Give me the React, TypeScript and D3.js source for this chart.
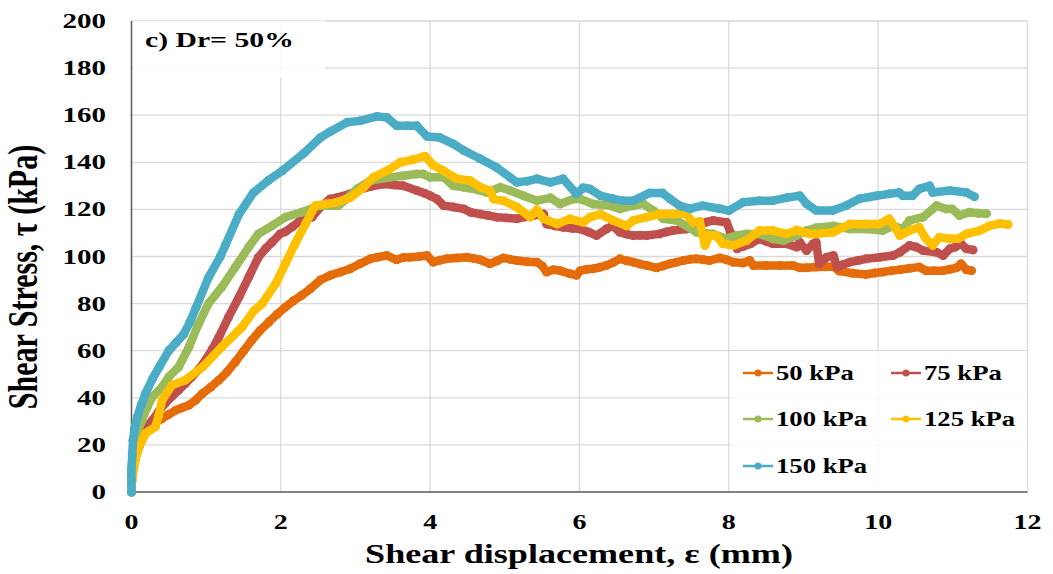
import React from "react";
import * as d3 from "d3";

const W = 1053;
const H = 574;
const FONT = "'Liberation Serif', 'Times New Roman', serif";

// axis ticks
const xTicks = [0, 2, 4, 6, 8, 10, 12];
const yTicks = [0, 20, 40, 60, 80, 100, 120, 140, 160, 180, 200];

// series: [displacement mm, shear stress kPa]
const s50: [number, number][] = [
  [0, 0], [0, 4], [0.01, 8], [0.05, 14], [0.1, 19], [0.16, 24], [0.23, 27.7], [0.32, 29.5], [0.41, 31.2],
  [0.5, 33], [0.59, 34.7], [0.68, 35.8], [0.77, 36.9], [0.86, 39], [0.95, 41.8], [1.06, 44.5], [1.17, 47.5],
  [1.28, 51], [1.39, 55.2], [1.5, 59.8], [1.61, 64.4], [1.72, 68.5], [1.84, 72.2], [1.95, 75.5], [2.06, 78.5],
  [2.17, 81.2], [2.28, 83.5], [2.4, 86.4], [2.53, 90], [2.66, 92], [2.8, 93.4], [2.93, 94.8], [3.06, 96.9],
  [3.2, 99], [3.29, 99.7], [3.42, 100.4], [3.55, 98.6], [3.64, 99.6], [3.73, 99.7], [3.85, 100], [3.96, 100.4],
  [4.04, 97.6], [4.13, 98.4], [4.22, 99], [4.35, 99.4], [4.49, 99.7], [4.58, 99.2], [4.67, 98.6], [4.8, 96.9],
  [4.9, 98.2], [4.98, 99.4], [5.07, 98.8], [5.16, 98.3], [5.3, 97.8], [5.43, 97.6], [5.5, 96], [5.56, 93.4],
  [5.65, 94.4], [5.74, 94], [5.87, 92.7], [5.96, 92], [6.01, 94], [6.1, 94.6], [6.18, 94.8], [6.27, 95.4],
  [6.36, 96.2], [6.45, 97.4], [6.54, 99], [6.63, 98.2], [6.72, 97.6], [6.81, 96.8], [6.9, 96.2], [7.03, 95.2],
  [7.12, 96], [7.21, 96.9], [7.3, 97.6], [7.39, 98.3], [7.48, 98.8], [7.57, 99], [7.66, 98.6], [7.74, 98.3],
  [7.88, 99.4], [7.97, 98.6], [8.06, 97.6], [8.19, 97.2], [8.28, 98.3], [8.33, 96.2], [8.5, 96.2], [8.68, 96.2],
  [8.86, 96.2], [8.95, 95.2], [9.04, 95.2], [9.17, 95.5], [9.3, 95.6], [9.4, 95.8], [9.48, 93.8], [9.66, 92.9],
  [9.84, 92.4], [9.95, 93], [10.06, 93.4], [10.18, 94], [10.29, 94.4], [10.42, 95], [10.55, 95.5], [10.64, 94],
  [10.75, 94], [10.87, 94], [10.96, 94.6], [11.05, 95.2], [11.11, 96.9], [11.18, 94.4], [11.25, 94],
];

const s75: [number, number][] = [
  [0, 0], [0, 5], [0.01, 12], [0.05, 17], [0.1, 22], [0.19, 27], [0.28, 30.5], [0.36, 34], [0.45, 37.6],
  [0.54, 40.5], [0.63, 43.2], [0.72, 46], [0.81, 48.9], [0.9, 52], [0.99, 56], [1.08, 60.5], [1.17, 65.8],
  [1.3, 74.3], [1.44, 82.8], [1.57, 91.2], [1.7, 99.7], [1.8, 103.5], [1.88, 106], [1.99, 109.6], [2.06, 110.5],
  [2.15, 112.5], [2.26, 115.3], [2.42, 116.7], [2.53, 121], [2.66, 124.4], [2.75, 125], [2.93, 126.6],
  [3.06, 128.5], [3.2, 129.7], [3.38, 130.8], [3.52, 130.4], [3.64, 130], [3.82, 128], [3.93, 126.8], [4.0, 125.8],
  [4.09, 124.4], [4.18, 121.6], [4.31, 121], [4.45, 120.2], [4.54, 118.8], [4.67, 118], [4.78, 117.4],
  [4.89, 116.7], [5.02, 116.4], [5.16, 116], [5.27, 116.8], [5.38, 117.4], [5.52, 118], [5.56, 113.8], [5.67, 113],
  [5.78, 112.4], [5.9, 112], [6.01, 111.7], [6.12, 110.4], [6.23, 108.9], [6.36, 111.7], [6.45, 113], [6.54, 110.3],
  [6.63, 109.5], [6.72, 108.9], [6.81, 109], [6.9, 108.9], [7.07, 109.6], [7.16, 110.4], [7.25, 111], [7.43, 111.7],
  [7.52, 112.8], [7.61, 113.8], [7.7, 114.6], [7.79, 115.3], [7.97, 114.5], [8.02, 110.3], [8.07, 106], [8.11, 103.3],
  [8.2, 104.4], [8.29, 105.4], [8.41, 107.5], [8.5, 106.4], [8.59, 105.4], [8.77, 105.4], [8.91, 104], [8.95, 106],
  [9.04, 102.5], [9.13, 105.4], [9.17, 106], [9.21, 96.9], [9.31, 99.7], [9.4, 100.4], [9.45, 95.5], [9.53, 96.6],
  [9.62, 97.6], [9.73, 98.3], [9.84, 99], [10.02, 99.7], [10.2, 100.4], [10.29, 101.8], [10.42, 104.7], [10.51, 104],
  [10.6, 102.5], [10.78, 101.8], [10.87, 100.4], [10.96, 103.3], [11.03, 104], [11.11, 105.4], [11.18, 103.3],
  [11.27, 102.8],
];

const s100: [number, number][] = [
  [0, 0], [0, 6], [0.01, 12], [0.03, 18], [0.05, 22], [0.09, 26.5], [0.14, 30.5], [0.21, 36], [0.28, 40.4],
  [0.41, 44.6], [0.5, 48.9], [0.63, 53], [0.77, 61.6], [0.9, 71.5], [1.03, 80], [1.21, 87], [1.39, 95.5],
  [1.57, 104], [1.7, 109.6], [1.88, 113], [2.06, 116.7], [2.28, 118.8], [2.51, 121.6], [2.66, 121.6],
  [2.77, 121.6], [2.9, 125], [3.02, 128.7], [3.2, 132.2], [3.46, 133.6], [3.64, 134.3], [3.82, 135], [3.91, 135],
  [4.0, 133.6], [4.18, 133.6], [4.31, 130], [4.45, 129.4], [4.54, 129], [4.65, 128.2], [4.76, 127.2], [4.94, 129.4],
  [5.07, 128], [5.25, 125.8], [5.43, 123.7], [5.61, 124.9], [5.74, 122.3], [5.92, 124.4], [6.01, 124.4],
  [6.18, 122.3], [6.41, 121.6], [6.54, 120.2], [6.72, 121.6], [6.85, 122.4], [6.99, 119.5], [7.12, 116],
  [7.3, 115.3], [7.43, 113], [7.57, 110.3], [7.79, 109.6], [7.97, 107.5], [8.1, 108.9], [8.24, 109.6], [8.41, 109.6],
  [8.59, 107.5], [8.73, 106.8], [8.91, 108.9], [9.04, 111], [9.17, 112.2], [9.4, 113], [9.62, 111.7], [9.84, 111.7],
  [10.06, 111], [10.2, 113], [10.33, 111.7], [10.42, 115.3], [10.6, 116.7], [10.73, 120.2], [10.78, 121.6],
  [10.91, 120.2], [10.99, 120.2], [11.09, 117.4], [11.22, 118.8], [11.34, 118.4], [11.45, 118.2],
];

const s125: [number, number][] = [
  [0, 0], [0, 3], [0.01, 5], [0.03, 10], [0.06, 15], [0.1, 19], [0.19, 24.9], [0.32, 27.7], [0.36, 32],
  [0.41, 39], [0.54, 45.3], [0.72, 47.5], [0.95, 53], [1.21, 61.6], [1.48, 70], [1.64, 77], [1.75, 80],
  [1.93, 88.4], [2.06, 96.9], [2.19, 105.4], [2.33, 113.8], [2.46, 121.6], [2.6, 122.3], [2.75, 123], [2.93, 125],
  [3.11, 129.4], [3.24, 133.6], [3.42, 136.4], [3.6, 140], [3.78, 141.2], [3.93, 142.6], [4.04, 138.8],
  [4.18, 136.4], [4.36, 133], [4.54, 132.2], [4.67, 129.4], [4.8, 128], [4.85, 124.4], [4.98, 123.7], [5.16, 121],
  [5.34, 116.7], [5.43, 119.8], [5.52, 116], [5.7, 113.8], [5.87, 116], [6.05, 114.5], [6.14, 116.7], [6.28, 118],
  [6.45, 115.3], [6.63, 113], [6.72, 115.3], [6.9, 116.7], [7.07, 118], [7.25, 118], [7.43, 118], [7.52, 114.5],
  [7.61, 114.9], [7.68, 104.7], [7.74, 108.9], [7.83, 108.9], [7.92, 105.4], [8.06, 104.7], [8.24, 106.8],
  [8.41, 111], [8.59, 111], [8.77, 109.6], [8.91, 111.2], [9.08, 109.6], [9.17, 109.6], [9.4, 110.3], [9.62, 113.8],
  [9.84, 113.8], [10.02, 113.8], [10.15, 116], [10.24, 111.7], [10.29, 108.9], [10.42, 111], [10.55, 112.4],
  [10.64, 107.5], [10.73, 104.7], [10.82, 108.2], [10.96, 107.5], [11.07, 107.5], [11.18, 109.6], [11.36, 111],
  [11.49, 113], [11.63, 114], [11.74, 113.6],
];

const s150: [number, number][] = [
  [0, 0], [0, 5], [0, 10], [0.01, 16], [0.02, 22], [0.04, 27], [0.08, 32], [0.13, 37], [0.19, 42], [0.28, 48],
  [0.37, 53], [0.5, 60], [0.6, 63.5], [0.7, 67], [0.78, 72], [0.86, 78], [1.03, 91], [1.19, 100], [1.26, 105],
  [1.44, 118], [1.63, 127], [1.84, 132.5], [2.02, 136.4], [2.3, 143.6], [2.53, 150.5], [2.66, 153], [2.89, 157],
  [3.06, 157.6], [3.29, 159.5], [3.42, 159], [3.55, 155.5], [3.69, 155.5], [3.82, 155.5], [3.96, 151],
  [4.13, 150.5], [4.31, 147.8], [4.45, 145], [4.67, 141.5], [4.89, 137.8], [5.07, 133.6], [5.16, 131.5],
  [5.3, 132], [5.43, 133], [5.61, 131.5], [5.78, 133], [5.96, 126.6], [6.05, 129.2], [6.14, 128.7], [6.28, 125.8],
  [6.45, 124.5], [6.58, 123.7], [6.72, 123.7], [6.81, 125], [6.94, 127], [7.11, 127], [7.21, 124.5], [7.34, 121.6],
  [7.48, 120.3], [7.65, 121.6], [7.88, 120.3], [8.0, 119.5], [8.19, 123], [8.41, 123.7], [8.59, 123.7], [8.78, 125],
  [8.95, 125.8], [9.04, 122.4], [9.17, 119.5], [9.39, 119.5], [9.57, 121.6], [9.75, 124.5], [9.98, 125.8],
  [10.15, 126.6], [10.28, 127.2], [10.33, 125.8], [10.46, 125.8], [10.55, 128.7], [10.69, 130], [10.73, 127.2],
  [10.96, 128], [11.18, 127.2], [11.29, 125.4],
];

const seriesNames = ["50 kPa", "75 kPa", "100 kPa", "125 kPa", "150 kPa"];
const seriesColors = ["#E46C0A", "#C0504D", "#9BBB59", "#FFC000", "#4BACC6"];
const seriesData = [s50, s75, s100, s125, s150];

const x = d3.scaleLinear().domain([0, 12]).range([131.5, 1027.5]);
const y = d3.scaleLinear().domain([0, 200]).range([492, 21]);
const line = d3
  .line<[number, number]>()
  .x((d) => x(d[0]))
  .y((d) => y(d[1]));

// text in the picture is stretched sideways, so scale it after placing
const Wide = ({ tx, ty, sx = 1.4, size = 20, anchor = "start", children }: any) => (
  <text
    transform={`translate(${tx},${ty}) scale(${sx},1)`}
    fontFamily={FONT}
    fontWeight="bold"
    fontSize={size}
    textAnchor={anchor}
    fill="#000"
  >
    {children}
  </text>
);

const App = () => {
  const legendPos = [
    [743, 373],
    [891, 373],
    [743, 419],
    [891, 419],
    [743, 466],
  ];
  return (
    <svg width={W} height={H} style={{ position: "absolute", left: 0, top: 0, background: "#fff" }}>
      {/* grid */}
      {yTicks.slice(1).map((t) => (
        <line key={"gy" + t} x1={x(0)} x2={x(12)} y1={y(t)} y2={y(t)} stroke="#d9d9d9" strokeWidth={1.3} />
      ))}
      {xTicks.slice(1).map((t) => (
        <line key={"gx" + t} x1={x(t)} x2={x(t)} y1={y(0)} y2={y(200)} stroke="#d9d9d9" strokeWidth={1.3} />
      ))}

      {/* title box */}
      <rect x={133} y={21} width={192} height={57} fill="#fff" fillOpacity={0.85} />
      <Wide tx={145} ty={47} size={22} sx={1.35}>
        c) Dr= 50%
      </Wide>

      {/* axes */}
      <line x1={x(0)} x2={x(0)} y1={y(0)} y2={y(200)} stroke="#595959" strokeWidth={1.5} />
      <line x1={x(0) - 1} x2={x(12)} y1={y(0)} y2={y(0)} stroke="#595959" strokeWidth={1.5} />

      {/* series */}
      {seriesData.map((data, i) => (
        <g key={seriesNames[i]}>
          <path
            d={line(data) || ""}
            fill="none"
            stroke={seriesColors[i]}
            strokeWidth={8.5}
            strokeLinejoin="round"
            strokeLinecap="round"
          />
          {data.map((d, j) => (
            <circle key={j} cx={x(d[0])} cy={y(d[1])} r={4.5} fill={seriesColors[i]} />
          ))}
        </g>
      ))}

      {/* tick labels */}
      {yTicks.map((t) => (
        <Wide key={"ly" + t} tx={106} ty={y(t) + 7} anchor="end" sx={1.45}>
          {String(t)}
        </Wide>
      ))}
      {xTicks.map((t) => (
        <Wide key={"lx" + t} tx={x(t)} ty={529} anchor="middle" sx={1.4}>
          {String(t)}
        </Wide>
      ))}

      {/* axis titles */}
      <Wide tx={579} ty={563} anchor="middle" size={28} sx={1.29}>
        Shear displacement, ε (mm)
      </Wide>
      <text
        transform="translate(37,277) rotate(-90) scale(1,1.4)"
        fontFamily={FONT}
        fontWeight="bold"
        fontSize={30}
        textAnchor="middle"
        fill="#000"
      >
        Shear Stress, τ (kPa)
      </text>

      {/* legend */}
      <rect x={730} y={351} width={297} height={140} fill="#fff" fillOpacity={0.85} />
      {seriesNames.map((name, i) => {
        const [lx, ly] = legendPos[i];
        return (
          <g key={"lg" + name}>
            <line x1={lx} x2={lx + 30} y1={ly} y2={ly} stroke={seriesColors[i]} strokeWidth={2.5} />
            <circle cx={lx + 15} cy={ly} r={3.5} fill={seriesColors[i]} />
            <Wide tx={lx + 33} ty={ly + 7} size={21} sx={1.27}>
              {name}
            </Wide>
          </g>
        );
      })}
    </svg>
  );
};

export default App;
